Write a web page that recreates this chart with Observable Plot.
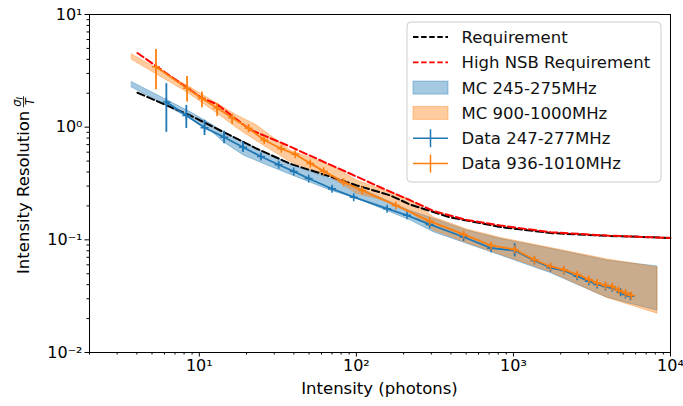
<!DOCTYPE html>
<html><head><meta charset="utf-8">
<script src="https://cdn.jsdelivr.net/npm/d3@7"></script>
<script src="https://cdn.jsdelivr.net/npm/@observablehq/plot@0.6"></script>
<style>
body{margin:0;background:#fff;}
#chart svg{font-family:"DejaVu Sans";}
</style>
</head><body><div id="chart"></div>
<script>
// Requirement curves
const reqX = [4.04, 8.76, 14.3, 23.3, 38.0, 62.0, 101, 164, 221, 397, 826, 1722, 3584, 10000];
const reqY = [2.02, 1.27, 0.903, 0.643, 0.473, 0.380, 0.304, 0.248, 0.205, 0.158, 0.130, 0.115, 0.109, 0.104];
const nsbX = [4.04, 10.15, 13.0, 21.1, 34.4, 56.0, 91.6, 149, 221, 311, 506, 826, 1722, 3951, 10000];
const nsbY = [4.55, 1.85, 1.59, 0.948, 0.713, 0.525, 0.386, 0.284, 0.224, 0.180, 0.150, 0.134, 0.117, 0.109, 0.104];

// MC bands
const mcLowX  = [3.73, 8.76, 11.8, 14.3, 19.2, 25.6, 41.8, 68.4, 101, 221, 311, 506, 826, 1722, 3951, 8260];
const mcLowHi = [2.51, 1.36, 1.07, 0.903, 0.736, 0.600, 0.442, 0.348, 0.294, 0.180, 0.154, 0.121, 0.102, 0.0834, 0.0656, 0.0580];
const mcLowLo = [2.25, 1.19, 0.935, 0.736, 0.561, 0.473, 0.360, 0.274, 0.232, 0.149, 0.117, 0.0922, 0.0728, 0.0508, 0.0306, 0.0235];
const mcHighX  = [3.73, 8.36, 13.6, 17.4, 23.3, 38.0, 68.4, 101, 149, 221, 311, 506, 826, 1722, 3951, 8260];
const mcHighHi = [4.42, 2.34, 1.56, 1.27, 1.035, 0.621, 0.457, 0.337, 0.274, 0.227, 0.158, 0.1236, 0.104, 0.0847, 0.067, 0.0569];
const mcHighLo = [3.96, 2.04, 1.27, 0.98, 0.75, 0.49, 0.360, 0.256, 0.224, 0.176, 0.121, 0.0937, 0.0741, 0.0519, 0.0306, 0.0221];

// Data 247-277MHz
const dLowX  = [6.17, 8.27, 10.8, 14.4, 19.0, 24.7, 32.0, 39.9, 49.7, 70.0, 96.2, 157, 210, 293, 482, 721, 1018, 1361, 1722, 2090, 2546, 3019, 3415, 3855, 4254, 4808, 5168, 5560];
const dLowY  = [1.67, 1.27, 0.987, 0.815, 0.664, 0.549, 0.464, 0.405, 0.350, 0.284, 0.239, 0.189, 0.165, 0.137, 0.106, 0.0844, 0.0805, 0.0656, 0.0565, 0.0535, 0.0476, 0.0430, 0.0402, 0.0386, 0.0376, 0.0343, 0.0328, 0.0315];
const dLowLo = [0.90, 0.974, 0.844, 0.712, 0.60, 0.515, 0.445, 0.39, 0.338, 0.275, 0.231, 0.183, 0.160, 0.133, 0.102, 0.081, 0.0705, 0.0630, 0.0543, 0.0514, 0.0458, 0.0414, 0.0387, 0.0371, 0.0361, 0.0330, 0.0315, 0.0303];
const dLowHi = [2.43, 1.56, 1.15, 0.921, 0.73, 0.585, 0.485, 0.42, 0.362, 0.293, 0.247, 0.195, 0.170, 0.141, 0.110, 0.088, 0.0925, 0.0682, 0.0587, 0.0556, 0.0494, 0.0446, 0.0417, 0.0401, 0.0391, 0.0356, 0.0341, 0.0327];

// Data 936-1010MHz
const dHighX  = [5.30, 8.36, 10.4, 13.0, 16.2, 20.6, 25.9, 33.3, 40.8, 50.9, 61.9, 83.0, 109, 178, 293, 482, 721, 1018, 1361, 1722, 2090, 2546, 3019, 3415, 3855, 4254, 4677, 5168, 5617];
const dHighY  = [3.44, 2.21, 1.80, 1.48, 1.21, 0.977, 0.769, 0.643, 0.575, 0.477, 0.407, 0.325, 0.274, 0.202, 0.1466, 0.1117, 0.0891, 0.0822, 0.0666, 0.0580, 0.0543, 0.0493, 0.0445, 0.0413, 0.0394, 0.0386, 0.0356, 0.0337, 0.0321];
const dHighLo = [2.15, 1.67, 1.49, 1.24, 1.06, 0.90, 0.73, 0.62, 0.555, 0.46, 0.395, 0.315, 0.266, 0.196, 0.142, 0.108, 0.086, 0.079, 0.064, 0.0558, 0.0522, 0.0474, 0.0428, 0.0397, 0.0379, 0.0371, 0.0342, 0.0324, 0.0309];
const dHighHi = [4.9, 2.82, 2.05, 1.63, 1.29, 1.04, 0.81, 0.67, 0.595, 0.495, 0.42, 0.335, 0.282, 0.208, 0.151, 0.115, 0.092, 0.085, 0.069, 0.0602, 0.0564, 0.0512, 0.0462, 0.0429, 0.0409, 0.0401, 0.0370, 0.0350, 0.0333];

// Ticks
const xTicks = [10, 100, 1000, 10000];
const xTickLabels = ["10¹", "10²", "10³", "10⁴"];
const xMinor = [2,3,4,5,6,7,8,9,20,30,40,50,60,70,80,90,200,300,400,500,600,700,800,900,2000,3000,4000,5000,6000,7000,8000,9000];
const yTicks = [0.01, 0.1, 1, 10];
const yTickLabels = ["10⁻²", "10⁻¹", "10⁰", "10¹"];
const yMinor = [0.02,0.03,0.04,0.05,0.06,0.07,0.08,0.09,0.2,0.3,0.4,0.5,0.6,0.7,0.8,0.9,2,3,4,5,6,7,8,9];

const BLUE = "#1f77b4", ORANGE = "#ff7f0e";
const DASH = "7.4,3.2";

const zip2 = (xs, ys) => xs.map((x, i) => ({x, y: ys[i]}));
const zipBand = (xs, lo, hi) => xs.map((x, i) => ({x, lo: lo[i], hi: hi[i]}));
const zipData = (xs, ys, lo, hi) => xs.map((x, i) => ({x, y: ys[i], lo: lo[i], hi: hi[i]}));

const req = zip2(reqX, reqY);
const nsb = zip2(nsbX, nsbY);
const bandLow = zipBand(mcLowX, mcLowLo, mcLowHi);
const bandHigh = zipBand(mcHighX, mcHighLo, mcHighHi);
const dataLow = zipData(dLowX, dLowY, dLowLo, dLowHi);
const dataHigh = zipData(dHighX, dHighY, dHighLo, dHighHi);

const chart = Plot.plot({
  width: 683, height: 406,
  marginLeft: 89, marginRight: 13, marginTop: 14, marginBottom: 54,
  style: {fontFamily: "DejaVu Sans", fontSize: "16px", background: "white", overflow: "visible"},
  x: {type: "log", domain: [2, 10000]},
  y: {type: "log", domain: [0.01, 10]},
  marks: [
    Plot.areaY(bandLow, {x: "x", y1: "lo", y2: "hi", fill: BLUE, fillOpacity: 0.4, stroke: BLUE, strokeOpacity: 0.4, strokeWidth: 1, curve: "linear"}),
    Plot.areaY(bandHigh, {x: "x", y1: "lo", y2: "hi", fill: ORANGE, fillOpacity: 0.4, stroke: ORANGE, strokeOpacity: 0.4, strokeWidth: 1, curve: "linear"}),
    Plot.line(req, {x: "x", y: "y", stroke: "black", strokeWidth: 2, strokeDasharray: DASH}),
    Plot.line(nsb, {x: "x", y: "y", stroke: "red", strokeWidth: 2, strokeDasharray: DASH}),
    Plot.line(dataLow, {x: "x", y: "y", stroke: BLUE, strokeWidth: 1.8}),
    Plot.ruleX(dataLow, {x: "x", y1: "lo", y2: "hi", stroke: BLUE, strokeWidth: 1.8}),
    Plot.dot(dataLow, {x: "x", y: "y", symbol: "plus", r: 2.7, stroke: BLUE, strokeWidth: 1.5}),
    Plot.line(dataHigh, {x: "x", y: "y", stroke: ORANGE, strokeWidth: 1.8}),
    Plot.ruleX(dataHigh, {x: "x", y1: "lo", y2: "hi", stroke: ORANGE, strokeWidth: 1.8}),
    Plot.dot(dataHigh, {x: "x", y: "y", symbol: "plus", r: 2.7, stroke: ORANGE, strokeWidth: 1.5}),
    Plot.axisX({ticks: xMinor, tickSize: 2.5, tickFormat: () => "", label: null}),
    Plot.axisY({ticks: yMinor, tickSize: 2.5, tickFormat: () => "", label: null}),
    Plot.axisX({ticks: xTicks, tickSize: 4.5, tickPadding: 3, tickFormat: d => xTickLabels[xTicks.indexOf(d)], label: null, fontSize: 16}),
    Plot.axisY({ticks: yTicks, tickSize: 4.5, tickPadding: 2.5, tickFormat: d => yTickLabels[yTicks.indexOf(d)], label: null, fontSize: 16}),
    Plot.frame({stroke: "black", strokeWidth: 1})
  ]
});
document.getElementById("chart").appendChild(chart);

const svg = d3.select(chart);
const FS = 16.5;
// X label
svg.append("text").attr("x", 379.5).attr("y", 394).attr("text-anchor", "middle")
  .attr("font-size", FS).attr("fill", "black").text("Intensity (photons)");

// Y label with fraction
const yl = svg.append("g").attr("transform", "translate(29,274) rotate(-90)").attr("text-anchor", "start");
const t = yl.append("text").attr("x", 0).attr("y", 0).attr("font-size", FS).attr("fill", "black").text("Intensity Resolution");
const len = t.node().getComputedTextLength();
const fx = len + 4;
const num = yl.append("text").attr("x", fx).attr("y", -8.5).attr("font-size", 11.5).attr("fill", "black");
num.append("tspan").text("σ").attr("font-style", "italic");
num.append("tspan").text("I").attr("font-size", 8).attr("dy", 2).attr("font-style", "italic");
yl.append("line").attr("x1", fx - 0.5).attr("x2", fx + 10.5).attr("y1", -5.5).attr("y2", -5.5).attr("stroke", "black").attr("stroke-width", 0.8);
yl.append("text").attr("x", fx + 5).attr("y", 5).attr("text-anchor", "middle").attr("font-size", 11.5).attr("font-style", "italic").attr("fill", "black").text("T");

// Legend
const lg = svg.append("g").attr("text-anchor", "start");
lg.append("rect").attr("x", 407).attr("y", 22).attr("width", 254).attr("height", 160).attr("rx", 4)
  .attr("fill", "white").attr("fill-opacity", 0.8).attr("stroke", "#cccccc").attr("stroke-width", 1);
const items = [
  {label: "Requirement", type: "dash", color: "black"},
  {label: "High NSB Requirement", type: "dash", color: "red"},
  {label: "MC 245-275MHz", type: "patch", color: BLUE},
  {label: "MC 900-1000MHz", type: "patch", color: ORANGE},
  {label: "Data 247-277MHz", type: "err", color: BLUE},
  {label: "Data 936-1010MHz", type: "err", color: ORANGE}
];
items.forEach((it, i) => {
  const cy = 37 + i * 25.3;
  const x1 = 413, x2 = 448;
  if (it.type === "dash") {
    lg.append("line").attr("x1", x1).attr("x2", x2).attr("y1", cy).attr("y2", cy)
      .attr("stroke", it.color).attr("stroke-width", 1.8).attr("stroke-dasharray", "5.5,2.6");
  } else if (it.type === "patch") {
    lg.append("rect").attr("x", x1).attr("y", cy - 6.5).attr("width", x2 - x1).attr("height", 13)
      .attr("fill", it.color).attr("fill-opacity", 0.4).attr("stroke", it.color).attr("stroke-opacity", 0.4);
  } else {
    lg.append("line").attr("x1", x1).attr("x2", x2).attr("y1", cy).attr("y2", cy).attr("stroke", it.color).attr("stroke-width", 1.5);
    lg.append("line").attr("x1", (x1 + x2) / 2).attr("x2", (x1 + x2) / 2).attr("y1", cy - 9).attr("y2", cy + 9).attr("stroke", it.color).attr("stroke-width", 1.5);
  }
  lg.append("text").attr("x", 461.5).attr("y", cy).attr("dy", "0.36em").attr("font-size", FS).attr("fill", "#111").text(it.label);
});
</script>
</body></html>
